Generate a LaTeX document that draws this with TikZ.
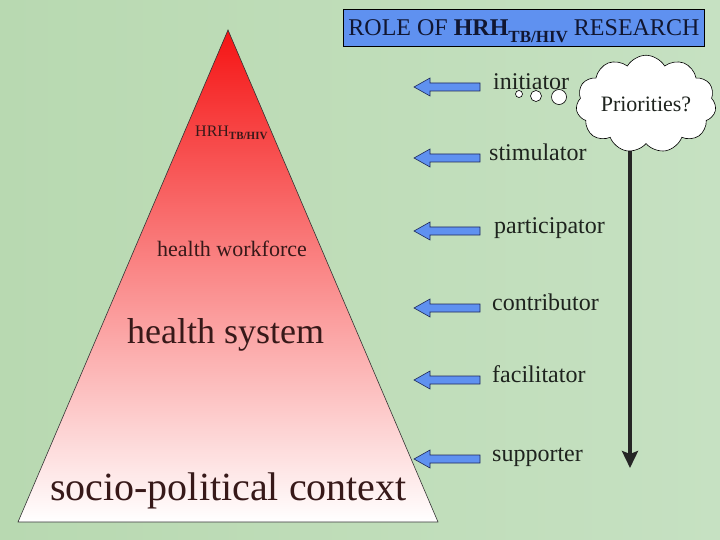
\documentclass[tikz,border=0pt]{standalone}
\usepackage{fontspec}
\setmainfont{Liberation Serif}
\usetikzlibrary{shapes.symbols,arrows.meta}
\definecolor{bg}{RGB}{184,217,177}
\definecolor{bgl}{RGB}{198,225,194}
\definecolor{bluefill}{RGB}{95,145,240}
\definecolor{blueline}{RGB}{30,40,90}
\definecolor{txt}{RGB}{30,35,30}
\definecolor{darktxt}{RGB}{55,25,25}
\newcommand{\fsz}[1]{\fontsize{#1}{#1}\selectfont}
\begin{document}
\begin{tikzpicture}[x=1pt,y=-1pt,
  barrow/.style={fill=bluefill,draw=blueline,line width=0.6pt,line join=miter},
  lbl/.style={anchor=mid west,inner sep=0pt,text=txt,font=\fsz{24}},
  tri/.style={anchor=base west,inner sep=0pt,text=darktxt}]
\useasboundingbox (0,0) rectangle (720,540);
\fill[left color=bg, right color=bgl, middle color=bg!90!white] (0,0) rectangle (720,540);
% pyramid
\draw[line width=0.6pt, draw=black!80, top color={rgb,255:red,245;green,20;blue,20},
      middle color={rgb,255:red,255;green,175;blue,175}, bottom color=white]
  (228,30) -- (438,522) -- (18,522) -- cycle;
\node[tri,font=\fsz{16}] (hrh) at (195,137) {HRH\raisebox{-3pt}{\fsz{11}\bfseries TB/HIV}};
\node[tri,font=\fsz{22}] (hw) at (157,256) {health workforce};
\node[tri,font=\fsz{36}] (hs) at (127,343) {health system};
\node[tri,font=\fsz{40}] (spc) at (50,500) {socio-political context};
% title
\node[draw=black,line width=0.8pt,fill=bluefill,minimum width=361pt,minimum height=37pt,
      inner sep=0pt,anchor=north west,text=blueline!55!black] (title) at (343,9)
  {\fsz{24}ROLE OF \textbf{HRH}\raisebox{-7pt}[0pt][0pt]{\fsz{17}\bfseries TB/HIV} RESEARCH};
% blue arrows
\foreach \yy/\nm in {87/a1,158/a2,231/a3,308/a4,380/a5,459/a6}{
  \draw[barrow] (414,\yy) -- ++(16,-9) -- ++(0,5) -- ++(50,0) -- ++(0,8) -- ++(-50,0) -- ++(0,5) -- cycle;
  \coordinate (\nm) at (480,\yy);
}
\node[lbl] (l1) at (493,87) {initiator};
\node[lbl] (l2) at (489,158) {stimulator};
\node[lbl] (l3) at (494,231) {participator};
\node[lbl] (l4) at (492,308) {contributor};
\node[lbl] (l5) at (492,380) {facilitator};
\node[lbl] (l6) at (492,459) {supporter};
% vertical arrow
\coordinate (vtop) at (630,130);
\coordinate (vbot) at (630,468);
\draw[line width=3.5pt,draw=black!85,-{Stealth[length=17pt,width=16pt,inset=3pt]}] (vtop) -- (vbot);
% thought bubbles
\draw[fill=white,line width=0.6pt] (519,94) circle (3.5pt);
\draw[fill=white,line width=0.6pt] (536,96) circle (5.5pt);
\draw[fill=white,line width=0.6pt] (559,97) circle (7.5pt);
% cloud
\node[cloud,cloud puffs=11,cloud puff arc=120,aspect=1.6,draw=black,line width=0.6pt,fill=white,
      minimum width=140pt,minimum height=90pt,inner sep=0pt,text=txt,font=\fsz{22}] (cloud) at (646,104) {Priorities?};
\end{tikzpicture}
\end{document}
